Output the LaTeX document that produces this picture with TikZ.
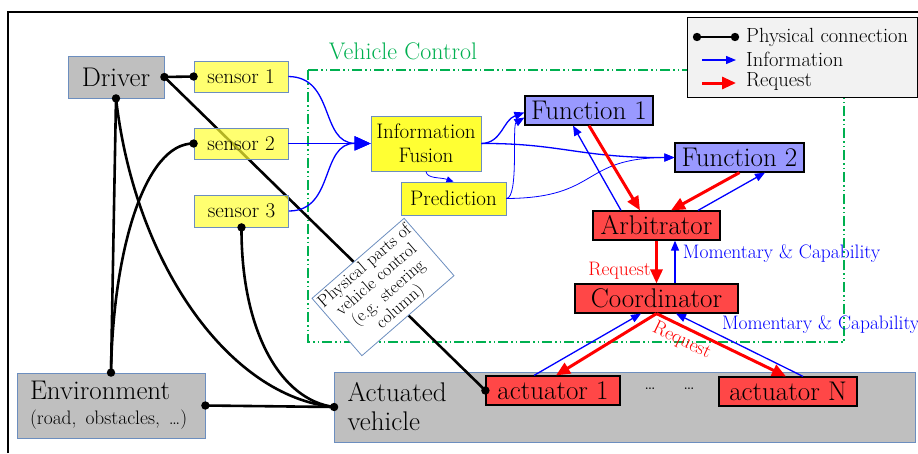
\documentclass[tikz,border=0pt]{standalone}
\usepackage{fontspec}
\usetikzlibrary{arrows.meta}

\definecolor{boxblue}{RGB}{108,142,191}
\definecolor{boxgray}{RGB}{191,191,191}
\definecolor{sensyellow}{RGB}{255,255,51}
\definecolor{boxred}{RGB}{255,71,71}
\definecolor{funblue}{RGB}{153,153,255}
\definecolor{infoblue}{RGB}{0,0,255}
\definecolor{reqred}{RGB}{255,0,0}
\definecolor{vcgreen}{RGB}{0,176,80}
\definecolor{legbg}{RGB}{242,242,242}

\newcommand\fsz[2]{\fontsize{#1}{#2}\selectfont}

\tikzset{
  box/.style={draw=boxblue, line width=0.8pt, inner sep=0pt, align=center},
  graybox/.style={box, fill=boxgray},
  sensor/.style={box, fill=sensyellow, fill opacity=0.7, text opacity=1, minimum width=94pt, minimum height=31pt, font=\fsz{21}{24}},
  infobox/.style={box, fill=sensyellow, font=\fsz{21}{24}},
  redbox/.style={draw=black, line width=1.2pt, fill=boxred, inner sep=0pt, minimum height=29pt, font=\fsz{27}{30}},
  funbox/.style={redbox, fill=funblue},
  phys/.style={line width=2.6pt, line cap=round},
  info/.style={draw=infoblue, line width=1.3pt, -{Triangle[length=10pt,width=8pt]}},
  thininfo/.style={info, line width=0.8pt},
  biginfo/.style={info, -{Triangle[length=16pt,width=14pt]}},
  req/.style={draw=reqred, line width=3pt, -{Triangle[length=14pt,width=12pt]}},
  vcframe/.style={draw=vcgreen, line width=1.4pt, dash pattern=on 10pt off 3pt on 1.5pt off 3pt on 1.5pt off 3pt},
  lbl/.style={font=\fsz{19.5}{22}},
}

\begin{document}
\begin{tikzpicture}[x=1pt, y=-1pt]
\useasboundingbox (0,0) rectangle (918,453);

% outer frame
\draw[line width=2pt] (8,453) -- (8,12) -- (918,12);

% vehicle control
\draw[vcframe] (308,70) rectangle (844,342);
\node[text=vcgreen, font=\fsz{24}{27}] (vclabel) at (403,51) {Vehicle Control};

% environment and vehicle
\node[graybox, minimum width=581pt, minimum height=70pt, text width=555pt, inner xsep=13pt, align=left, font=\fsz{27}{29}] (veh) at (625,407) {Actuated\\vehicle};
\node[graybox, minimum width=188pt, minimum height=65pt, text width=162pt, inner xsep=13pt, align=left, font=\fsz{27}{29}] (env) at (111,405.5) {Environment\\[-4pt]{\fsz{19.5}{22}(road, obstacles, \ldots)}};
\node[graybox, minimum width=96pt, minimum height=42pt, font=\fsz{27}{30}] (drv) at (116,77) {Driver};

% actuators
\node[redbox, minimum width=134pt] (act1) at (553,390.5) {actuator 1};
\node[redbox, minimum width=138pt] (actN) at (788,391.5) {actuator N};
\node[lbl] (dots1) at (650,389) {\ldots};
\node[lbl] (dots2) at (689,389) {\ldots};

% steering column line (under the sensors)
\draw[phys] (drv.east) -- (act1.west);

% sensors
\node[sensor] (s1) at (241,76.5) {sensor 1};
\node[sensor] (s2) at (241,143.5) {sensor 2};
\node[sensor, minimum height=32pt] (s3) at (241.5,211) {sensor 3};

\node[box, fill=white, rotate=41, minimum width=122pt, minimum height=76pt, font=\fsz{17.5}{18}] (phys) at (383,287) {Physical parts of\\vehicle control\\(e.g. steering\\column)};

% control chain
\node[infobox, minimum width=110pt, minimum height=55pt] (fus) at (426,143.5) {Information\\Fusion};
\node[infobox, minimum width=105pt, minimum height=33pt] (pred) at (453.5,198.5) {Prediction};
\node[funbox, minimum width=128pt] (fun1) at (589,110.5) {Function 1};
\node[funbox, minimum width=129pt] (fun2) at (739.5,157.5) {Function 2};
\node[redbox, minimum width=127pt] (arb) at (656.5,225.5) {Arbitrator};
\node[redbox, minimum width=163pt] (coord) at (656.5,298.5) {Coordinator};

% physical connections
\draw[phys] (drv.east) -- (s1.west);
\draw[phys] (drv.south) -- (env.north);
\draw[phys] (drv.south) .. controls (135,265) and (230,397) .. (veh.west);
\draw[phys] (s2.west) .. controls (145,143) and (113,250) .. (env.north);
\draw[phys] (s3.south) .. controls (241,330) and (280,400) .. (veh.west);
\draw[phys] (env.east) -- (veh.west);
\foreach \p in {drv.east, s1.west, act1.west, drv.south, env.north, s2.west, s3.south, env.east, veh.west}
  \fill (\p) circle (4.2pt);

% information
\draw[biginfo] (s1.east) .. controls (335,77) and (320,143) .. (fus.west);
\draw[biginfo] (s2.east) -- (fus.west);
\draw[biginfo] (s3.east) .. controls (335,211) and (320,143) .. (fus.west);
\draw[thininfo, -{Triangle[length=7pt,width=6pt]}] (fus.south) .. controls (427,179) and (440,177) .. (pred.north);
\draw[info] (fus.east) .. controls (502,143) and (503,120) .. ([yshift=-2pt]fun1.west);
\draw[thininfo] (pred.east) .. controls (519,198) and (512,125) .. ([yshift=-7pt]fun1.west);
\draw[info] (fus.east) .. controls (560,143) and (580,158) .. (fun2.west);
\draw[thininfo] (pred.east) .. controls (600,198) and (580,158) .. (fun2.west);
\draw[info] ([xshift=-35.5pt]arb.north) -- ([xshift=-16pt]fun1.south);
\draw[info] ([xshift=41.5pt]arb.north) -- ([xshift=25.5pt]fun2.south);
\draw[info] ([xshift=18.5pt]coord.north) -- ([xshift=18.5pt]arb.south)
  node[pos=0.7, right=4pt, text=infoblue, lbl] (mc1) {Momentary \& Capability};
\draw[info] ([xshift=-19pt]act1.north) -- ([xshift=-15.5pt]coord.south);
\draw[info] ([xshift=15pt]actN.north) -- ([xshift=19.5pt]coord.south)
  node[pos=0.65, anchor=south west, inner sep=1pt, text=infoblue, lbl] (mc2) {Momentary \& Capability};

% requests
\draw[req] (fun1.south) -- ([xshift=-16.5pt]arb.north);
\draw[req] (fun2.south) -- ([xshift=14.5pt]arb.north);
\draw[req] (arb.south) -- (coord.north)
  node[pos=0.7, left=1pt, text=reqred, lbl] (rq1) {Request};
\draw[req] (coord.south) -- ([xshift=3pt]act1.north);
\draw[req] (coord.south) -- ([xshift=-2pt]actN.north)
  node[pos=0.24, below, sloped, text=reqred, lbl] (rq2) {Request};

% legend
\node[draw=black, line width=1pt, fill=legbg, minimum width=230pt, minimum height=80pt] (leg) at (802,57) {};
\coordinate (lg1) at (697,37);
\coordinate (lg2) at (735,37);
\draw[phys] (lg1) -- (lg2);
\fill (lg1) circle (4.2pt) (lg2) circle (4.2pt);
\node[anchor=west, inner sep=0pt, font=\fsz{20.5}{23}] (lt1) at (746,37) {Physical connection};
\coordinate (lg3) at (702,60);
\coordinate (lg4) at (736,60);
\draw[info] (lg3) -- (lg4);
\node[anchor=west, inner sep=0pt, font=\fsz{20.5}{23}] (lt2) at (746,59) {Information};
\coordinate (lg5) at (702,83);
\coordinate (lg6) at (736,83);
\draw[req] (lg5) -- (lg6);
\node[anchor=west, inner sep=0pt, font=\fsz{20.5}{23}] (lt3) at (746,81) {Request};

\end{tikzpicture}
\end{document}
